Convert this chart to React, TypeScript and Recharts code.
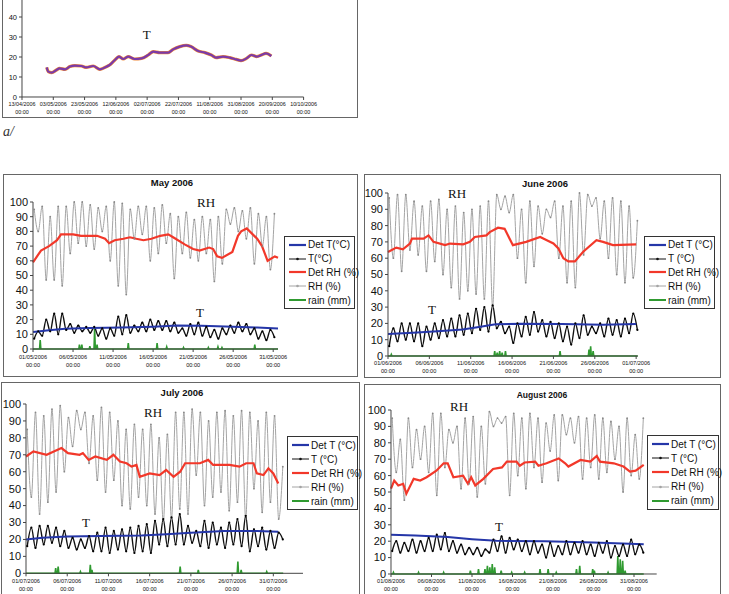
import React from "react";
import { ComposedChart, Line, XAxis, YAxis } from "recharts";

type Pt = [number, number];

// ---- panel a/ : whole season, days counted from 13/04/2006
const seasonTickDays = [0, 20, 40, 60, 80, 100, 120, 140, 160, 180];
const seasonTickLabels = [
  "13/04/2006", "03/05/2006", "23/05/2006", "12/06/2006", "02/07/2006",
  "22/07/2006", "11/08/2006", "31/08/2006", "20/09/2006", "10/10/2006",
];
const seasonT: Pt[] = [
  [15.8, 14.8], [16.8, 12.7], [19, 12.2], [22, 13.5], [24, 14.3], [27.5, 13.8],
  [30.6, 15.2], [33.8, 15.7], [38, 15.5], [41, 14.8], [45.5, 15.5], [49.8, 13.8],
  [53, 14.8], [56, 16], [59.4, 18.5], [62, 20.2], [64.7, 19], [67.9, 20.2],
  [72, 19], [76.4, 19.3], [80.7, 21], [83.9, 22.7], [88, 22.2], [93.4, 22.2],
  [96.6, 23.8], [100.9, 25.2], [105, 25.8], [108, 25.2], [112.6, 23], [116.9, 22.2],
  [121, 21], [124, 19.7], [128.5, 20.2], [132.8, 19.7], [137, 18.8], [140, 18.2],
  [143.5, 19.3], [146.7, 21], [150, 20.2], [153, 21], [156, 21.8], [159.4, 20.5],
];

// ---- monthly panels: tick days shared
const monthTickDays = [1, 6, 11, 16, 21, 26, 31];

// May 2006 (RH and T: two readings a day, night then afternoon)
const mayTicks = ["01/05/2006", "06/05/2006", "11/05/2006", "16/05/2006", "21/05/2006", "26/05/2006", "31/05/2006"];
const mayRH = [
  95, 80, 97, 47, 90, 47, 97, 43, 97, 65, 100, 72, 100, 70, 98, 68, 96, 80, 97, 60,
  100, 43, 99, 37, 95, 75, 97, 78, 97, 60, 96, 65, 98, 72, 92, 48, 90, 65, 93, 62,
  88, 60, 90, 65, 88, 46, 90, 58, 95, 85, 96, 80, 94, 75, 96, 58, 92, 70, 90, 54, 92,
];
const mayT = [
  7, 12, 9, 20, 12, 24, 10, 24, 13, 17, 11, 16, 12, 15, 11, 15, 9, 14, 7, 14,
  9, 22, 10, 23, 11, 16, 12, 18, 12, 20, 13, 19, 13, 19, 12, 18, 11, 14, 9, 17,
  10, 18, 9, 15, 8, 13, 7, 14, 10, 16, 11, 18, 12, 17, 10, 14, 7, 12, 6, 13, 8,
];
const mayDetT: Pt[] = [[1, 11.5], [3, 12.8], [5, 13.8], [8, 14.3], [12, 14.6], [16, 15.2], [19, 16], [22, 15.8], [26, 15.2], [29, 14.6], [31.6, 14]];
const mayDetRH: Pt[] = [
  [1, 59], [2, 67], [3, 70], [4, 74], [4.5, 78], [6, 78], [7, 77], [8, 77], [9, 77], [10, 75],
  [10.5, 72], [11.2, 74], [12.3, 75], [13.1, 76], [13.9, 75], [14.8, 74], [15.8, 75], [16.9, 77],
  [17.9, 78], [18.5, 76], [20, 71], [21, 68], [21.8, 67], [23, 69], [23.5, 68], [24, 63], [24.6, 62],
  [25.9, 66], [26.6, 77], [27, 80], [27.7, 82], [29, 75], [29.6, 70], [30.3, 60], [31.2, 63], [31.6, 62],
];
const mayRain: Pt[] = [
  [1.9, 6], [6.8, 3], [7.1, 3], [8.1, 2], [8.7, 14], [9.0, 3], [12.9, 4], [16.5, 4],
  [17.7, 1.5], [19.8, 1], [22.9, 1], [24.1, 1.5], [24.6, 1], [28.7, 3],
];

// June 2006
const juneTicks = ["01/06/2006", "06/06/2006", "11/06/2006", "16/06/2006", "21/06/2006", "26/06/2006", "01/07/2006"];
const juneRH = [
  97, 60, 99, 52, 99, 65, 95, 62, 92, 52, 95, 58, 96, 50, 90, 42, 92, 35, 88, 40,
  90, 38, 92, 35, 95, 30, 99, 90, 98, 88, 99, 60, 90, 45, 95, 55, 92, 75, 90, 85,
  95, 60, 92, 45, 95, 42, 100, 62, 99, 92, 97, 72, 95, 60, 97, 50, 95, 45, 92, 48, 83,
];
const juneT = [
  6, 17, 9, 20, 10, 20, 9, 20, 6, 18, 10, 20, 11, 22, 12, 23, 12, 25, 13, 26,
  14, 29, 16, 30, 15, 31, 17, 21, 14, 18, 8, 20, 12, 24, 13, 27, 15, 22, 12, 21,
  11, 20, 9, 18, 7, 20, 11, 25, 13, 18, 14, 20, 12, 23, 13, 22, 12, 23, 14, 26, 16,
];
const juneDetT: Pt[] = [[1, 13.5], [4, 14.3], [7, 15.2], [10, 16.3], [12, 17.8], [14, 19.5], [17, 19.8], [22, 19.6], [27, 19.2], [31, 19.6]];
const juneDetRH: Pt[] = [
  [1, 63.8], [2, 66.5], [2.8, 65.4], [3.65, 69], [3.9, 72], [5.3, 72], [5.9, 74], [6.5, 70],
  [7.9, 68], [8.5, 69], [10.1, 68.5], [10.9, 70], [11.5, 73], [12.9, 74], [13.3, 76], [14.3, 78.7],
  [15.1, 78], [16.1, 68], [17.7, 70], [19.4, 73], [20.2, 71], [21, 69], [21.6, 66], [22.2, 60],
  [22.8, 58], [23.6, 58], [24.6, 64], [26.2, 71], [27, 70], [28.2, 68], [31, 68.5],
];
const juneRain: Pt[] = [
  [1.4, 1], [13.9, 3], [14.2, 2], [14.5, 3], [14.8, 2], [15.2, 3], [21.8, 3], [25.3, 4], [25.5, 6], [25.8, 3],
];

// July 2006
const julyTicks = ["01/07/2006", "06/07/2006", "11/07/2006", "16/07/2006", "21/07/2006", "26/07/2006", "31/07/2006"];
const julyRH = [
  85, 45, 95, 35, 93, 42, 97, 48, 99, 60, 92, 75, 96, 85, 95, 65, 93, 55, 98, 48,
  95, 55, 90, 40, 85, 38, 88, 45, 85, 40, 88, 35, 80, 30, 82, 32, 95, 38, 95, 35,
  97, 58, 95, 40, 90, 45, 95, 48, 96, 37, 93, 42, 96, 32, 95, 50, 90, 36, 95, 42, 93, 32, 63,
];
const julyT = [
  16, 27, 15, 28, 17, 28, 18, 27, 16, 25, 15, 21, 14, 20, 15, 22, 13, 24, 13, 27,
  12, 25, 14, 26, 13, 27, 12, 28, 13, 29, 12, 31, 17, 32, 16, 33, 17, 35, 17, 28,
  18, 25, 16, 31, 15, 30, 17, 27, 15, 30, 17, 32, 16, 34, 13, 26, 16, 27, 14, 25, 15, 24, 20,
];
const julyDetT: Pt[] = [[1, 20], [3, 21], [6, 21.8], [10, 22], [15, 22.3], [18, 23], [21, 24], [25, 25], [29, 25], [31.6, 24.5]];
const julyDetRH: Pt[] = [
  [1, 69], [1.9, 72], [3.5, 70], [5.3, 74], [6.1, 71], [7.5, 70], [7.9, 71], [8.6, 67], [9.4, 69],
  [10.8, 67], [11.6, 70], [12.4, 66], [13.2, 65], [13.8, 63], [14.4, 64], [14.8, 57], [16, 59],
  [17.2, 58], [18, 61], [18.9, 57], [19.7, 60], [20.3, 65], [22.1, 65], [23.1, 67], [23.7, 64],
  [25.7, 64], [26.9, 63], [27.7, 65], [28.6, 65], [29, 59], [29.8, 58], [30.4, 62], [31, 59], [31.6, 53],
];
const julyRain: Pt[] = [[4.6, 3], [4.9, 4], [7.6, 1], [8.8, 5], [9.0, 2], [19.7, 4], [21.9, 2], [26.7, 7], [27.1, 2], [30.2, 1]];

// August 2006
const augTicks = ["01/08/2006", "06/08/2006", "11/08/2006", "16/08/2006", "21/08/2006", "26/08/2006", "31/08/2006"];
const augRH = [
  95, 62, 82, 45, 95, 65, 88, 70, 90, 62, 98, 48, 98, 65, 88, 80, 90, 52, 95, 55,
  96, 47, 90, 55, 99, 90, 95, 92, 96, 48, 98, 60, 95, 52, 98, 65, 95, 56, 92, 75,
  97, 57, 97, 85, 95, 80, 96, 58, 95, 65, 97, 58, 95, 62, 93, 70, 90, 50, 95, 60, 85, 58, 95,
];
const augT = [
  14, 20, 13, 19, 14, 21, 13, 20, 14, 22, 14, 24, 15, 25, 14, 20, 13, 18, 12, 16,
  12, 16, 11, 15, 13, 21, 14, 23, 13, 22, 15, 21, 14, 20, 12, 20, 13, 18, 10, 19,
  11, 17, 12, 20, 12, 19, 13, 20, 12, 18, 11, 19, 13, 20, 10, 17, 11, 18, 11, 21, 12, 18, 13,
];
const augDetT: Pt[] = [[1, 24], [4, 23.5], [8, 22.5], [11, 21.2], [14, 20.2], [20, 20], [26, 19.2], [32.2, 18.2]];
const augDetRH: Pt[] = [
  [1, 52], [1.4, 57], [1.9, 54], [2.5, 55], [2.9, 49], [3.8, 58], [4.6, 57], [5.4, 59], [6.6, 63],
  [7.5, 67.5], [8, 67.5], [8.7, 59], [9.9, 60], [10.5, 55], [10.9, 59], [11.4, 54], [12.4, 58],
  [13.6, 64], [14.7, 65], [15.3, 68.5], [16.5, 68.5], [16.9, 66], [17.5, 68], [18.8, 68.5], [19.2, 66],
  [20.2, 67.5], [21.7, 70.5], [22.5, 67.5], [22.9, 65.5], [24.4, 69.5], [25.6, 68.5], [26.4, 72],
  [26.8, 68.5], [28.5, 67.5], [29.7, 65.5], [30.5, 62.5], [31.2, 63], [32.2, 66.5],
];
const augRain: Pt[] = [
  [1.3, 1], [4.4, 1], [7.5, 1], [10.8, 2], [11.8, 3], [12.6, 3], [12.9, 5], [13.2, 4], [13.5, 6],
  [13.8, 4], [14.6, 2], [15.9, 1], [17.5, 1], [19.4, 3], [20.4, 3], [21.4, 1], [23.9, 3], [24.3, 5],
  [25.9, 3], [26.1, 2], [27.8, 1], [29.0, 11], [29.3, 9], [29.6, 8], [29.9, 2],
];

const legendStd = ["Det T (°C)", "T (°C)", "Det RH (%)", "RH (%)", "rain (mm)"];
const legendMay = ["Det T(°C)", "T(°C)", "Det RH (%)", "RH (%)", "rain (mm)"];

const SANS = "Arial, 'Liberation Sans', sans-serif";
const SERIF = "'Times New Roman', 'Liberation Serif', serif";
const C = { detT: "#2536a8", t: "#111111", detRH: "#f2382a", rh: "#a4a4a4", rain: "#2f9a30" };

const halfDaily = (vals: number[]) => vals.map((y, i) => ({ x: 1.15 + i * 0.5, y }));
const pts = (arr: Pt[]) => arr.map(([x, y]) => ({ x, y }));
const rainLine = (events: Pt[], end: number) => {
  const out = [{ x: 1, y: 0 }];
  events.forEach(([d, mm]) => out.push({ x: d - 0.08, y: 0 }, { x: d, y: mm }, { x: d + 0.08, y: 0 }));
  out.push({ x: end, y: 0 });
  return out;
};

const DateTick = (props: any) => {
  const { x, y, payload, labels, ticks, fs, d1, d2 } = props;
  const i = ticks.indexOf(payload.value);
  return (
    <text x={x} y={y} textAnchor="middle" fontSize={fs} fill="#111" fontFamily={SANS}>
      <tspan x={x} dy={d1}>{labels[i]}</tspan>
      <tspan x={x} dy={d2}>00:00</tspan>
    </text>
  );
};

const YW = 30;
const MT = 5;
const MR = 18;
const XH = 26;

function LegendBox({ left, top, width, height, names }: any) {
  const styles = [
    { c: C.detT, w: 2.2, dot: false },
    { c: C.t, w: 1, dot: true },
    { c: C.detRH, w: 2.2, dot: false },
    { c: C.rh, w: 1, dot: true },
    { c: C.rain, w: 2, dot: false },
  ];
  return (
    <div style={{
      position: "absolute", left, top, width, height, boxSizing: "border-box",
      border: "1.5px solid #333", background: "#fff", fontFamily: SANS, fontSize: 10,
      display: "flex", flexDirection: "column", justifyContent: "space-around", padding: "1px 0",
    }}>
      {styles.map((s, i) => (
        <div key={i} style={{ display: "flex", alignItems: "center", height: 13, whiteSpace: "nowrap" }}>
          <svg width={23} height={8} style={{ flex: "none" }}>
            <line x1={4} y1={4} x2={21} y2={4} stroke={s.c} strokeWidth={s.w} />
            {s.dot && <circle cx={12.5} cy={4} r={1.3} fill={s.c} />}
          </svg>
          <span style={{ color: "#111" }}>{names[i]}</span>
        </div>
      ))}
    </div>
  );
}

function Note({ x, y, text }: any) {
  return (
    <div style={{
      position: "absolute", left: x - 20, top: y - 9, width: 40, height: 18, textAlign: "center",
      fontFamily: SERIF, fontSize: 13, lineHeight: "18px", color: "#111",
    }}>{text}</div>
  );
}

function MonthPanel(p: any) {
  const { box, plot, domain, title, titleAt, ticks, rh, t, detT, detRH, rain, legend, names, rhAt, tAt, titleSize } = p;
  const w = plot.x1 - plot.x0 + YW + MR;
  const h = plot.y1 - plot.y0 + MT + XH;
  return (
    <>
      <div style={{
        position: "absolute", left: box.l, top: box.t, width: box.r - box.l, height: box.b - box.t,
        border: "1.5px solid #666", boxSizing: "border-box", background: "#fff",
      }} />
      <div style={{
        position: "absolute", left: titleAt[0] - 60, top: titleAt[1] - 7, width: 120, textAlign: "center",
        fontFamily: SANS, fontWeight: "bold", fontSize: titleSize, lineHeight: "14px", color: "#111",
      }}>{title}</div>
      <div style={{ position: "absolute", left: plot.x0 - YW, top: plot.y0 - MT }}>
        <ComposedChart width={w} height={h} margin={{ top: MT, right: MR, left: 0, bottom: 0 }}>
          <XAxis
            dataKey="x" type="number" domain={domain} ticks={monthTickDays} interval={0}
            height={XH} tickSize={3} tickMargin={1}
            axisLine={{ stroke: "#444" }} tickLine={{ stroke: "#444" }}
            tick={(tp: any) => <DateTick {...tp} labels={ticks} ticks={monthTickDays} fs={5.6} d1={5.5} d2={8} />}
          />
          <YAxis
            type="number" domain={[0, 100]} ticks={[0, 10, 20, 30, 40, 50, 60, 70, 80, 90, 100]} interval={0}
            width={YW} tickSize={3} tickMargin={2}
            axisLine={{ stroke: "#444" }} tickLine={{ stroke: "#444" }}
            tick={{ fontSize: 11, fill: "#111", fontFamily: SANS }}
          />
          <Line data={halfDaily(rh)} dataKey="y" type="monotone" stroke={C.rh} strokeWidth={1}
            dot={{ r: 0.9, fill: "#888", stroke: "none" }} isAnimationActive={false} />
          <Line data={rainLine(rain, domain[1] > 32 ? 32.2 : domain[1])} dataKey="y" type="linear" stroke={C.rain} strokeWidth={1.6}
            dot={false} isAnimationActive={false} />
          <Line data={halfDaily(t)} dataKey="y" type="monotone" stroke={C.t} strokeWidth={1.4}
            dot={{ r: 1.1, fill: "#000", stroke: "none" }} isAnimationActive={false} />
          <Line data={pts(detT)} dataKey="y" type="linear" stroke={C.detT} strokeWidth={2}
            dot={false} isAnimationActive={false} />
          <Line data={pts(detRH)} dataKey="y" type="linear" stroke={C.detRH} strokeWidth={2.2}
            dot={false} isAnimationActive={false} />
        </ComposedChart>
      </div>
      <Note x={rhAt[0]} y={rhAt[1]} text="RH" />
      <Note x={tAt[0]} y={tAt[1]} text="T" />
      <LegendBox {...legend} names={names} />
    </>
  );
}

function SeasonPanel() {
  const x0 = 22, x1 = 303.6, y0 = -3, y1 = 97;
  const w = x1 - x0 + YW + MR;
  const h = y1 - y0 + MT + XH;
  const data = pts(seasonT);
  return (
    <>
      <div style={{
        position: "absolute", left: 2, top: -10, width: 356, height: 128,
        border: "1.5px solid #666", boxSizing: "border-box", background: "#fff",
      }} />
      <div style={{ position: "absolute", left: x0 - YW, top: y0 - MT }}>
        <ComposedChart width={w} height={h} margin={{ top: MT, right: MR, left: 0, bottom: 0 }}>
          <XAxis
            dataKey="x" type="number" domain={[0, 180]} ticks={seasonTickDays} interval={0}
            height={XH} tickSize={3} tickMargin={1}
            axisLine={{ stroke: "#444" }} tickLine={{ stroke: "#444" }}
            tick={(tp: any) => <DateTick {...tp} labels={seasonTickLabels} ticks={seasonTickDays} fs={5.4} d1={5.5} d2={7.5} />}
          />
          <YAxis
            type="number" domain={[0, 50]} ticks={[0, 10, 20, 30, 40]} interval={0}
            width={YW} tickSize={3} tickMargin={2}
            axisLine={{ stroke: "#444" }} tickLine={{ stroke: "#444" }}
            tick={{ fontSize: 7.5, fill: "#111", fontFamily: SANS }}
          />
          <Line data={data} dataKey="y" type="monotone" stroke="#f08a3a" strokeWidth={3.2} dot={false} isAnimationActive={false} />
          <Line data={data} dataKey="y" type="monotone" stroke="#7a3aa8" strokeWidth={2.2} dot={false} isAnimationActive={false} />
        </ComposedChart>
      </div>
      <Note x={146.7} y={35} text="T" />
      <div style={{
        position: "absolute", left: 3, top: 124, fontFamily: SERIF, fontStyle: "italic", fontSize: 14, color: "#333",
      }}>a/</div>
    </>
  );
}

export default function App() {
  return (
    <div style={{ position: "absolute", left: 0, top: 0, width: 729, height: 594, overflow: "hidden", background: "#fff" }}>
      <SeasonPanel />
      <MonthPanel
        box={{ l: 3, t: 174, r: 358, b: 377 }} plot={{ x0: 33, x1: 278, y0: 202.3, y1: 349.3 }} domain={[1, 31.6]}
        title="May 2006" titleAt={[172, 183]} titleSize={9.5} ticks={mayTicks}
        rh={mayRH} t={mayT} detT={mayDetT} detRH={mayDetRH} rain={mayRain}
        legend={{ left: 284, top: 236, width: 71, height: 73 }} names={legendMay}
        rhAt={[206, 203]} tAt={[200, 313]}
      />
      <MonthPanel
        box={{ l: 364, t: 174, r: 721, b: 378 }} plot={{ x0: 388, x1: 637.8, y0: 192.7, y1: 355.7 }} domain={[1, 31.2]}
        title="June 2006" titleAt={[545, 184]} titleSize={9.5} ticks={juneTicks}
        rh={juneRH} t={juneT} detT={juneDetT} detRH={juneDetRH} rain={juneRain}
        legend={{ left: 644, top: 236, width: 71, height: 73 }} names={legendStd}
        rhAt={[457, 194]} tAt={[432, 310]}
      />
      <MonthPanel
        box={{ l: 1, t: 382, r: 360, b: 600 }} plot={{ x0: 26, x1: 303, y0: 404, y1: 573.3 }} domain={[1, 34.6]}
        title="July 2006" titleAt={[182, 393]} titleSize={9.5} ticks={julyTicks}
        rh={julyRH} t={julyT} detT={julyDetT} detRH={julyDetRH} rain={julyRain}
        legend={{ left: 287, top: 436, width: 71, height: 74 }} names={legendStd}
        rhAt={[153, 413]} tAt={[86, 523]}
      />
      <MonthPanel
        box={{ l: 364, t: 384, r: 721, b: 600 }} plot={{ x0: 391, x1: 656.7, y0: 410, y1: 574 }} domain={[1, 33.8]}
        title="August 2006" titleAt={[542, 395]} titleSize={8.5} ticks={augTicks}
        rh={augRH} t={augT} detT={augDetT} detRH={augDetRH} rain={augRain}
        legend={{ left: 647, top: 435, width: 72, height: 75 }} names={legendStd}
        rhAt={[459, 407]} tAt={[499, 527]}
      />
    </div>
  );
}
